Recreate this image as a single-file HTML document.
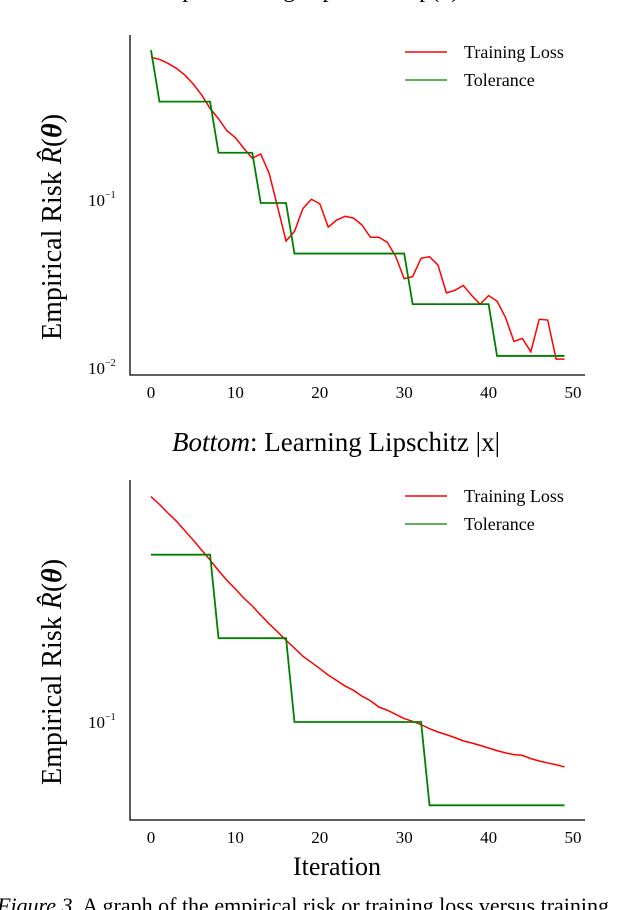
<!DOCTYPE html>
<html><head><meta charset="utf-8"><style>
body{margin:0;background:#fff;}
svg{display:block;font-family:"Liberation Serif",serif;}
</style></head><body>
<svg id="fig" width="620" height="910" viewBox="0 0 620 910">
<text x="310" y="-3" font-size="24" text-anchor="middle"><tspan font-style="italic">Top</tspan>: Learning Lipschitz exp(x)</text>
<text x="336" y="451" font-size="27" text-anchor="middle"><tspan font-style="italic">Bottom</tspan>: Learning Lipschitz |x|</text>
<text x="337" y="875" font-size="26" text-anchor="middle">Iteration</text>
<text x="-3" y="913" font-size="22"><tspan font-style="italic">Figure 3.</tspan>  A graph of the empirical risk or training loss versus training</text>
<g id="top"></g>
<g id="bot"></g>
</svg>
<script>
const iterations = Array.from({length:50},(_,i)=>i);
const xTicks = [0,10,20,30,40,50];
const topLoss = [0.706,0.688,0.651,0.608,0.555,0.490,0.422,0.351,0.304,0.258,0.235,0.203,0.177,0.188,0.144,0.091,0.057,0.065,0.089,0.101,0.095,0.069,0.076,0.080,0.078,0.071,0.060,0.060,0.056,0.046,0.034,0.035,0.045,0.046,0.041,0.028,0.029,0.031,0.027,0.024,0.027,0.025,0.020,0.0144,0.0150,0.0125,0.0195,0.0193,0.0113,0.0113];
const topTolIters = [0,1,7,8,12,13,16,17,30,31,40,41,49];
const topTolVals = [0.78,0.385,0.385,0.191,0.191,0.096,0.096,0.048,0.048,0.024,0.024,0.0118,0.0118];
const topYTicks = [0.1,0.01];
const topYTickExp = ["−1","−2"];
const botLoss = [0.366,0.350,0.333,0.318,0.301,0.285,0.269,0.254,0.239,0.226,0.215,0.204,0.195,0.185,0.176,0.168,0.160,0.153,0.146,0.141,0.136,0.131,0.127,0.123,0.120,0.116,0.113,0.109,0.107,0.1045,0.102,0.1004,0.0985,0.0962,0.0944,0.0930,0.0914,0.0897,0.0886,0.0874,0.0861,0.0848,0.0837,0.0829,0.0825,0.0810,0.0799,0.0790,0.0782,0.0772];
const botTolIters = [0,7,8,16,17,32,33,49];
const botTolVals = [0.262,0.262,0.162,0.162,0.1,0.1,0.0619,0.0619];
const botYTicks = [0.1];
const botYTickExp = ["−1"];

const NS="http://www.w3.org/2000/svg";
function mk(parent,tag,attrs){const e=document.createElementNS(NS,tag);for(const k in attrs)e.setAttribute(k,attrs[k]);parent.appendChild(e);return e;}
const xs = v => 151 + v*8.44;

function chart(g, top, bottom, yRef, decade, loss, tolI, tolV, yt, yte, legY, labelY){
  const ys = v => yRef - (Math.log10(v)+1)*decade;
  const ax = mk(g,'path',{d:`M130 ${top} V${bottom} H585`,fill:'none',stroke:'#000','stroke-width':1.3});
  
  
  xTicks.forEach(t=>{
    const tx=mk(g,'text',{x:xs(t),y:bottom+23,'font-size':17,'text-anchor':'middle'});
    tx.textContent=t;
    
    
  });
  yt.forEach((t,k)=>{
    const tx=mk(g,'text',{x:88,y:ys(t)+6,'font-size':17});
    tx.textContent='10';
    const sp=mk(tx,'tspan',{dy:-8,'font-size':10});
    sp.textContent=yte[k];
    
    
  });
  const yl=mk(g,'text',{transform:`translate(61 ${labelY}) rotate(-90)`,'font-size':28,'text-anchor':'middle'});
  yl.innerHTML='Empirical Risk <tspan font-style="italic">R̂</tspan>(<tspan font-weight="bold" font-style="italic">θ</tspan>)';
  
  
  const lp=mk(g,'polyline',{points:loss.map((v,i)=>xs(iterations[i])+','+ys(v)).join(' '),fill:'none',stroke:'#f00','stroke-width':1.5});
  
  
  const tp=mk(g,'polyline',{points:tolV.map((v,i)=>xs(tolI[i])+','+ys(v)).join(' '),fill:'none',stroke:'#008000','stroke-width':1.8});
  
  
  const l1=mk(g,'line',{x1:405,x2:447,y1:legY,y2:legY,stroke:'#f00','stroke-width':1.5});
  
  
  const t1=mk(g,'text',{x:464,y:legY+6,'font-size':18});t1.textContent='Training Loss';
  
  
  const l2=mk(g,'line',{x1:405,x2:447,y1:legY+28,y2:legY+28,stroke:'#008000','stroke-width':1.3});
  
  
  const t2=mk(g,'text',{x:464,y:legY+34,'font-size':18});t2.textContent='Tolerance';
  
  
}
chart(document.getElementById('top'),35,375,200,168,topLoss,topTolIters,topTolVals,topYTicks,topYTickExp,52,227);
chart(document.getElementById('bot'),480,820,722,400,botLoss,botTolIters,botTolVals,botYTicks,botYTickExp,496,672);
</script>
</body></html>
